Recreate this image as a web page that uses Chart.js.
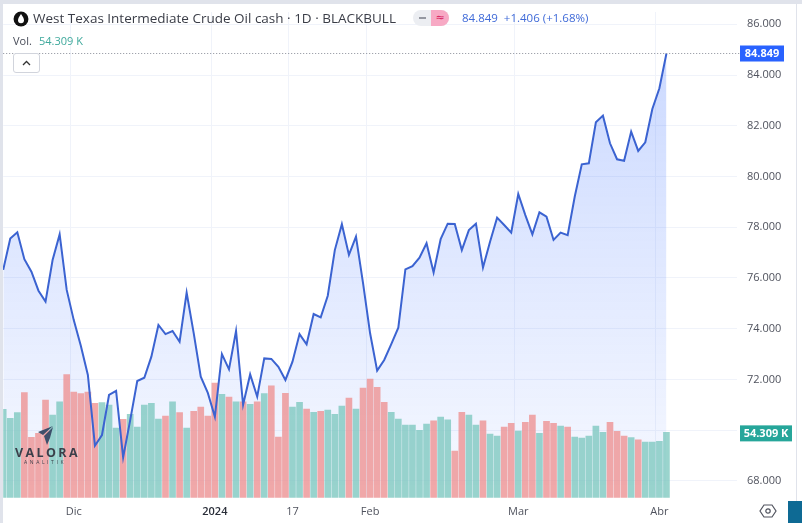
<!DOCTYPE html>
<html lang="es">
<head>
<meta charset="utf-8">
<title>West Texas Intermediate Crude Oil cash</title>
<script src="https://cdn.jsdelivr.net/npm/chart.js@4/dist/chart.umd.min.js"></script>
<style>
    html, body { margin: 0; padding: 0; background: #fff; overflow: hidden; }
    body { width: 802px; height: 523px; position: relative; font-family: "Open Sans", sans-serif; }
    canvas { position: absolute; left: 0; top: 0; }
    .frame { position: absolute; background: #e0e3eb; }
    .txt { position: absolute; white-space: nowrap; line-height: 1; }
    #title { left: 33px; top: 12px; font-size: 13.5px; color: #3a3d47; }
    #quote { left: 462px; top: 12px; font-size: 11.5px; color: #3f6ad8; }
    #volLabel { left: 13px; top: 35px; font-size: 11px; color: #4a4e5a; }
    #volValue { left: 39px; top: 35px; font-size: 11px; color: #3fa99c; }
    #logo { position: absolute; left: 13px; top: 11px; }
    #pill { position: absolute; left: 413px; top: 10px; width: 36px; height: 16px; border-radius: 8px; background: #eceef2; overflow: hidden; }
    #pill i { position: absolute; left: 6px; top: 7px; width: 7px; height: 2px; background: #9598a1; }
    #pill b { position: absolute; left: 18px; top: 0; width: 18px; height: 16px; background: #f7a9c4; color: #d81b60; font: 11px/16px "DejaVu Sans"; text-align: center; }
    #collapse { position: absolute; left: 13px; top: 53px; width: 25px; height: 18px; border: 1px solid #d1d4dc; border-radius: 3px; background: #fff; }
    #brand { left: 15px; top: 447px; font-size: 12.5px; font-weight: 700; letter-spacing: 2.4px; color: #3b3f4a; }
    #brandSub { left: 24px; top: 460px; font-size: 5px; letter-spacing: 2.6px; color: #3b3f4a; }
    #wing { position: absolute; left: 38px; top: 426px; }
    #gear { position: absolute; left: 759px; top: 502px; }
    #corner { position: absolute; left: 788px; top: 501px; width: 14px; height: 22px; background: #0e6a94; }
</style>
</head>
<body>
<canvas id="oil-chart" width="802" height="523"></canvas>
<div class="frame" style="left:0;top:0;width:3px;height:523px"></div>
<div class="frame" style="left:0;top:0;width:802px;height:4px"></div>
<div class="frame" style="left:796px;top:0;width:1px;height:501px"></div>

<svg id="logo" width="16" height="16" viewBox="0 0 14 14">
    <circle cx="7" cy="7" r="6.5" fill="#111"/>
    <path d="M7 2.6C8.8 5 9.6 6.6 9.6 8.2A2.6 2.6 0 0 1 4.4 8.2C4.4 6.6 5.2 5 7 2.6Z" fill="#fff"/>
</svg>
<div class="txt" id="title">West Texas Intermediate Crude Oil cash · 1D · BLACKBULL</div>
<div id="pill"><i></i><b>≈</b></div>
<div class="txt" id="quote">84.849 &nbsp;+1.406 (+1.68%)</div>
<div class="txt" id="volLabel">Vol.</div>
<div class="txt" id="volValue">54.309 K</div>
<div id="collapse">
    <svg width="25" height="18" viewBox="0 0 25 18"><path d="M9 11L12.5 7.5L16 11" fill="none" stroke="#333" stroke-width="1.3"/></svg>
</div>

<svg id="wing" width="16" height="20" viewBox="0 0 16 20">
    <path d="M15 0L0 6L5 9L15 0ZM15 1L6 10L9 19L12 12L15 1Z" fill="#3d4f6b"/>
</svg>
<div class="txt" id="brand">VALORA</div>
<div class="txt" id="brandSub">ANALITIK</div>

<svg id="gear" width="18" height="18" viewBox="0 0 18 18">
    <path d="M5 3H13L17 9L13 15H5L1 9Z" fill="none" stroke="#50535e" stroke-width="1.2"/>
    <circle cx="9" cy="9" r="2.2" fill="none" stroke="#50535e" stroke-width="1.2"/>
</svg>
<div id="corner"></div>

<script>
    // close of each session
    const closes = [
        76.32, 77.56, 77.80, 76.74, 76.25, 75.50, 75.07, 76.71, 77.72, 75.53,
        74.34, 73.33, 72.18, 69.39, 69.81, 71.39, 71.55, 68.93, 70.40, 71.94,
        72.07, 72.90, 74.15, 73.79, 73.91, 73.49, 75.42, 73.83, 72.11, 71.47,
        70.53, 73.00, 72.40, 73.91, 71.00, 72.20, 71.32, 72.83, 72.81, 72.50,
        71.98, 72.70, 73.79, 73.39, 74.58, 74.45, 75.30, 77.10, 78.12, 76.91,
        77.63, 75.80, 73.82, 72.35, 72.77, 73.39, 74.04, 76.34, 76.47, 76.80,
        77.37, 76.22, 77.53, 78.14, 78.13, 77.10, 77.89, 78.14, 76.41, 77.43,
        78.38, 78.09, 77.79, 79.31, 78.48, 77.72, 78.59, 78.42, 77.50, 77.79,
        77.69, 79.20, 80.48, 80.52, 82.14, 82.40, 81.31, 80.68, 80.62, 81.77,
        81.01, 81.35, 82.66, 83.48, 84.849
    ];

    // volume in K
    const volumes = [
        73.4, 65.9, 70.7, 87.3, 50.2, 53.5, 81.2, 68.7, 79.8, 102.3,
        87.8, 86.5, 87.8, 78.4, 79.0, 77.0, 57.9, 65.1, 69.3, 58.7,
        77.0, 78.4, 65.4, 67.9, 79.8, 70.7, 57.9, 71.8, 75.4, 67.9,
        95.3, 85.9, 83.7, 79.8, 79.8, 77.6, 79.8, 86.5, 93.1, 50.4,
        86.7, 75.4, 79.3, 73.7, 70.9, 71.8, 72.9, 69.3, 76.2, 82.9,
        73.7, 91.2, 98.6, 91.7, 79.3, 70.9, 65.4, 60.4, 60.4, 56.0,
        61.2, 64.0, 67.1, 64.8, 38.8, 70.9, 68.7, 60.4, 64.0, 52.9,
        51.3, 58.7, 61.8, 55.4, 62.6, 68.7, 53.5, 63.5, 61.8, 59.6,
        58.7, 50.4, 49.6, 51.3, 59.6, 54.3, 62.6, 55.1, 51.3, 49.9,
        48.2, 46.3, 46.3, 46.8, 54.309
    ];

    // r = red volume bar, g = green volume bar
    const volumeSides = [
        'gggrrrrggr', 'rrrrgggrgg', 'gggrgrgrrr', 'rgrgrgrgrr', 'rggrgrgggr',
        'grrrrggggg', 'grggrrggrg', 'grrgrrgrrg', 'rgggggrrrg', 'rgggg'
    ].join('').split('');

    const tickIndexes = [10, 30, 41, 52, 73, 93];
    const tickNames = ['Dic', '2024', '17', 'Feb', 'Mar', 'Abr'];
    const priceTicks = [68, 70, 72, 74, 76, 78, 80, 82, 84, 86];

    const lastPrice = 84.849;
    const lastVolume = 54.309;
    const slotCount = 105; // sessions plus the empty space right of the last bar

    let categories = [];
    for (let i = 0; i < slotCount; i++) {
        let pos = tickIndexes.indexOf(i);
        categories.push(pos >= 0 ? tickNames[pos] : '');
    }

    const canvas = document.getElementById('oil-chart');
    const ctx = canvas.getContext('2d');

    let areaFill = ctx.createLinearGradient(0, 53, 0, 498);
    areaFill.addColorStop(0, 'rgba(41, 98, 255, 0.24)');
    areaFill.addColorStop(1, 'rgba(41, 98, 255, 0.04)');

    function drawTag(c, x, w, yMid, color, text) {
        c.fillStyle = color;
        c.fillRect(x, yMid - 8, w, 16);
        c.fillStyle = '#fff';
        c.font = 'bold 11px "Open Sans", sans-serif';
        c.textAlign = 'center';
        c.textBaseline = 'middle';
        c.fillText(text, x + w / 2, yMid);
    }

    const lastValueTags = {
        id: 'lastValueTags',
        afterDraw(chart) {
            let c = chart.ctx;
            let area = chart.chartArea;
            let priceY = chart.scales.y.getPixelForValue(lastPrice);
            let volY = chart.scales.yVol.getPixelForValue(lastVolume);

            c.save();
            c.strokeStyle = '#8a8e99';
            c.lineWidth = 1;
            c.setLineDash([1, 2]);
            c.beginPath();
            c.moveTo(area.left, priceY);
            c.lineTo(area.right + 3, priceY);
            c.stroke();
            c.setLineDash([]);

            drawTag(c, 740, 44, priceY, '#2962ff', lastPrice.toFixed(3));
            drawTag(c, 740, 52, volY + 1, '#26a69a', lastVolume.toFixed(3) + ' K');
            c.restore();
        }
    };

    new Chart(ctx, {
        data: {
            labels: categories,
            datasets: [
                {
                    type: 'line',
                    data: closes,
                    yAxisID: 'y',
                    borderColor: '#3b63d1',
                    borderWidth: 2,
                    pointRadius: 0,
                    tension: 0,
                    fill: 'start',
                    backgroundColor: areaFill,
                    order: 0
                },
                {
                    type: 'bar',
                    data: volumes,
                    yAxisID: 'yVol',
                    barThickness: 6,
                    backgroundColor: volumeSides.map(s => s === 'r' ? 'rgba(238, 140, 140, 0.75)' : 'rgba(120, 198, 188, 0.75)'),
                    order: 1
                }
            ]
        },
        options: {
            responsive: false,
            animation: false,
            events: [],
            layout: {padding: {left: 3.2, top: 12, right: 0, bottom: 0}},
            plugins: {
                legend: {display: false},
                tooltip: {enabled: false},
                filler: {drawTime: 'beforeDatasetsDraw'}
            },
            scales: {
                x: {
                    offset: false,
                    afterFit: scale => {
                        scale.height = 25.3;
                        scale.paddingLeft = 0;
                        scale.paddingRight = 0;
                    },
                    border: {display: false},
                    grid: {
                        drawTicks: false,
                        color: c => tickIndexes.includes(c.index) ? '#f0f3fa' : 'transparent'
                    },
                    ticks: {
                        autoSkip: false,
                        maxRotation: 0,
                        padding: 8,
                        color: c => c.tick && c.tick.label === '2024' ? '#2a2e39' : '#50535e',
                        font: c => ({
                            family: '"Open Sans", sans-serif',
                            size: 11,
                            weight: c.tick && c.tick.label === '2024' ? '600' : '400'
                        })
                    }
                },
                y: {
                    position: 'right',
                    min: 67.34,
                    max: 86.485,
                    afterBuildTicks: scale => { scale.ticks = priceTicks.map(v => ({value: v})); },
                    afterFit: scale => {
                        scale.width = 65;
                        scale.paddingTop = 0;
                        scale.paddingBottom = 0;
                    },
                    border: {display: false},
                    grid: {drawTicks: false, color: '#f0f3fa'},
                    ticks: {
                        padding: 10,
                        color: '#50535e',
                        font: {family: '"Open Sans", sans-serif', size: 11},
                        // 70.000 sits behind the volume tag in the original
                        callback: v => v === 70 ? '' : v.toFixed(3)
                    }
                },
                yVol: {
                    display: false,
                    min: 0,
                    max: 403.8
                }
            }
        },
        plugins: [lastValueTags]
    });
</script>
</body>
</html>
